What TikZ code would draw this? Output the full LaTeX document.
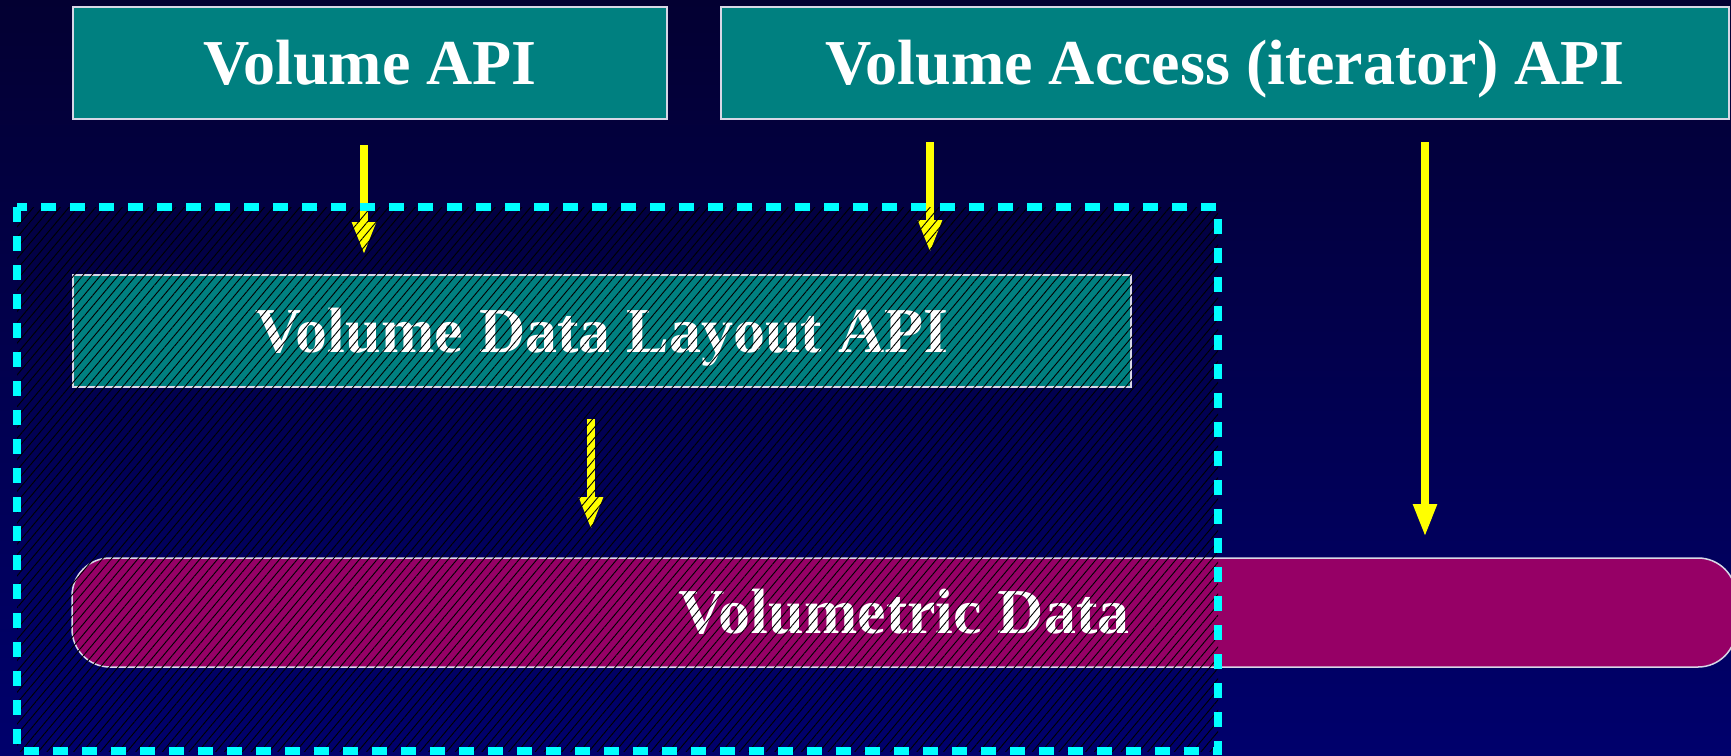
\documentclass[tikz,border=0pt]{standalone}
\usepackage{fontspec}
\setmainfont{Liberation Serif}
\usetikzlibrary{arrows.meta,patterns.meta}
\definecolor{bgtop}{RGB}{3,0,50}
\definecolor{bgbot}{RGB}{0,0,108}
\definecolor{tealbox}{RGB}{0,128,128}
\definecolor{magbox}{RGB}{150,0,102}
\definecolor{boxline}{RGB}{215,215,230}
\definecolor{arrowyellow}{RGB}{255,255,0}
\definecolor{dashcyan}{RGB}{0,255,255}
\begin{document}
\begin{tikzpicture}[x=1pt,y=-1pt,
  apibox/.style={draw=boxline,line width=1.5pt,fill=tealbox,inner sep=0pt,minimum height=112pt},
  lbl/.style={font=\fontsize{64}{70}\selectfont\bfseries,text=white,text height=42pt,text depth=0pt,inner sep=0pt},
  flow/.style={draw=arrowyellow,line width=8pt,-{Triangle[length=33pt,width=22pt,fill=arrowyellow]}},
  hatch/.style={pattern={Lines[angle=50,distance=6.8pt,line width=0.9pt]},pattern color=black},
  groupline/.style={draw=dashcyan,line width=8pt,dash pattern=on 15pt off 14pt}
]
\useasboundingbox (0,0) rectangle (1731,755);
\clip (0,0) rectangle (1731,755);
\shade[top color=bgtop,bottom color=bgbot] (0,0) rectangle (1731,755);

% top boxes
\node[apibox,lbl,minimum width=594pt] (vapi) at (370,63) {Volume API};
\node[apibox,lbl,minimum width=1008pt] (vaccess) at (1225,63) {Volume Access (iterator) API};

% layout box
\node[apibox,lbl,minimum width=1058pt] (layout) at (602,331) {Volume Data Layout API};

% volumetric data
\node[lbl,draw=boxline,line width=1.5pt,fill=magbox,rounded corners=38pt,minimum width=1664pt,minimum height=109pt] (vdata) at (904,612.5) {Volumetric Data};

% arrows
\coordinate (a1s) at (364,145); \coordinate (a1e) at (364,255);
\coordinate (a2s) at (930,142); \coordinate (a2e) at (930,253);
\coordinate (a3s) at (1425,142); \coordinate (a3e) at (1425,537);
\coordinate (a4s) at (591,419); \coordinate (a4e) at (591,530);
\draw[flow] (a1s) -- (a1e);
\draw[flow] (a2s) -- (a2e);
\draw[flow] (a3s) -- (a3e);
\draw[flow] (a4s) -- (a4e);

% hatched group
\coordinate (g1) at (17,207);
\coordinate (g2) at (1218,751);
\fill[hatch] (g1) rectangle (g2);
\draw[groupline] (g1) rectangle (g2);
\end{tikzpicture}
\end{document}
